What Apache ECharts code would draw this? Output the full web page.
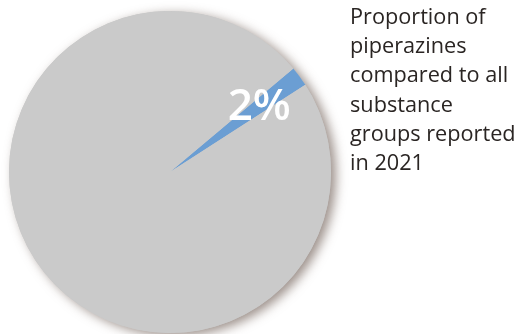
<!DOCTYPE html>
<html><head><meta charset="utf-8">
<script src="https://cdn.jsdelivr.net/npm/echarts@6/dist/echarts.min.js"></script>
<style>html,body{margin:0;padding:0;background:#fff}#c{width:521px;height:334px}</style>
</head><body><div id="c"></div>
<script>
var categories = ['Piperazines', 'Other substance groups'];
var values = [2, 98];
var titleLines = ['Proportion of', 'piperazines', 'compared to all', 'substance', 'groups reported', 'in 2021'];
var colors = ['#6b9ed3', '#cacaca'];

var total = values.reduce(function (a, b) { return a + b; }, 0);
var chart = echarts.init(document.getElementById('c'), null, {renderer: 'canvas'});
chart.setOption({
  animation: false,
  title: {
    text: titleLines.join('\n'),
    left: 345, top: -2,
    textStyle: {fontFamily: 'Open Sans', fontSize: 21.7, fontWeight: 'normal', color: '#2a2523', lineHeight: 29.3}
  },
  series: [{
    type: 'pie',
    center: [170, 172],
    radius: [0, 161],
    silent: true,
    z: 1,
    label: {show: false}, labelLine: {show: false},
    data: [{value: total, itemStyle: {color: colors[1]}}],
    itemStyle: {
      borderWidth: 0,
      shadowBlur: 11, shadowOffsetX: 5, shadowOffsetY: 3,
      shadowColor: 'rgba(90,70,60,0.6)'
    }
  }, {
    type: 'pie',
    center: [170, 172],
    radius: [0, 161],
    startAngle: 40,
    clockwise: true,
    silent: true,
    z: 2,
    data: categories.map(function (c, i) {
      return {
        name: c, value: values[i],
        itemStyle: {color: colors[i]},
        label: i === 0 ? {
          show: true, position: 'inside', formatter: '{c}%',
          color: '#fff', fontFamily: 'Open Sans', fontSize: 44, fontWeight: 600,
          offset: [22, -15]
        } : {show: false}
      };
    }),
    itemStyle: {borderWidth: 0},
    labelLine: {show: false}
  }]
});
</script></body></html>
